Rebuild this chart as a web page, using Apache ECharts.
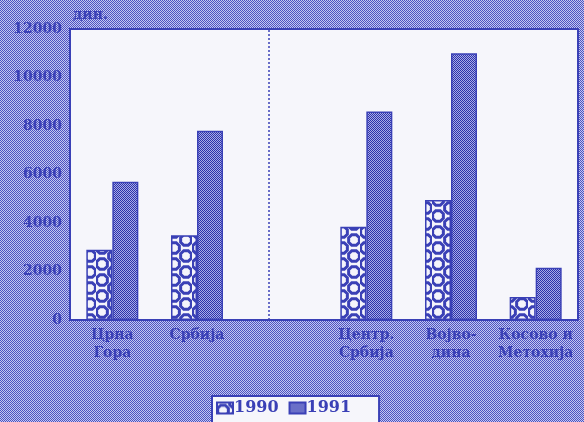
<!DOCTYPE html>
<html>
<head>
<meta charset="utf-8">
<script src="https://cdn.jsdelivr.net/npm/echarts@6/dist/echarts.min.js"></script>
<style>
  html, body { margin: 0; padding: 0; }
  #chart { width: 584px; height: 422px; }
</style>
</head>
<body>
<div id="chart"></div>
<script>
// подаци
var categories = ['Црна\nГора', 'Србија', '', 'Центр.\nСрбија', 'Војво-\nдина', 'Косово и\nМетохија'];
var values1990 = [2900, 3500, null, 3850, 4950, 950];
var values1991 = [5700, 7800, null, 8600, 11000, 2150];
var yTicks = [0, 2000, 4000, 6000, 8000, 10000, 12000];
var seriesNames = ['1990', '1991'];

var blue = '#3a40b6';
var font = 'DejaVu Serif';

// halftone tile: cells = list of [x, y] painted with c1
function tile(c1, c2, w, h, cells) {
  var cv = document.createElement('canvas');
  cv.width = w; cv.height = h;
  var ctx = cv.getContext('2d');
  ctx.fillStyle = c2; ctx.fillRect(0, 0, w, h);
  ctx.fillStyle = c1;
  cells.forEach(function (c) { ctx.fillRect(c[0], c[1], 1, 1); });
  return cv;
}

// prstenovi (osmougaonici) za 1990
function rings() {
  var w = 24, h = 16;
  var cv = document.createElement('canvas');
  cv.width = w; cv.height = h;
  var ctx = cv.getContext('2d');
  ctx.fillStyle = '#f4f4fb'; ctx.fillRect(0, 0, w, h);
  ctx.strokeStyle = blue; ctx.lineWidth = 3;
  function oct(cx, cy, r) {
    ctx.beginPath();
    for (var i = 0; i < 8; i++) {
      var a = Math.PI / 8 + i * Math.PI / 4;
      var x = cx + r * Math.cos(a), y = cy + r * Math.sin(a);
      i ? ctx.lineTo(x, y) : ctx.moveTo(x, y);
    }
    ctx.closePath();
    ctx.stroke();
  }
  oct(6, 8, 5.8);
  oct(18, 0, 5.8);
  oct(18, 16, 5.8);
  return cv;
}

var bgPattern = { image: tile('#4c52c2', '#c4c7ef', 2, 2, [[0, 0], [1, 1]]), repeat: 'repeat' };
var darkPattern = { image: tile('#2c32ab', '#a9ace6', 2, 2, [[0, 0], [1, 1]]), repeat: 'repeat' };
var ringPattern = { image: rings(), repeat: 'repeat' };

var myChart = echarts.init(document.getElementById('chart'), null, { renderer: 'canvas' });

var option = {
  backgroundColor: bgPattern,
  animation: false,
  title: {
    text: 'дин.',
    left: 68, top: 3,
    textStyle: { fontFamily: font, fontWeight: 'bold', fontSize: 14, color: blue }
  },
  grid: {
    left: 70, right: 6, top: 29, bottom: 102,
    show: true,
    backgroundColor: '#f6f6fb',
    borderColor: blue,
    borderWidth: 2
  },
  legend: {
    top: 396, left: 212,
    icon: 'rect',
    itemWidth: 16, itemHeight: 11, itemGap: 10,
    padding: [4, 28, 14, 4],
    backgroundColor: '#f6f6fb',
    borderColor: blue, borderWidth: 2,
    textStyle: { fontFamily: font, fontWeight: 'bold', fontSize: 16, color: blue, padding: [0, 0, 0, -4] },
    data: seriesNames
  },
  xAxis: {
    type: 'category',
    data: categories,
    axisTick: { show: false },
    axisLine: { show: false },
    axisLabel: {
      interval: 0, margin: 6,
      fontFamily: font, fontWeight: 'bold', fontSize: 14, lineHeight: 18, color: blue
    }
  },
  yAxis: {
    type: 'value',
    min: yTicks[0], max: yTicks[yTicks.length - 1], interval: 2000,
    splitLine: { show: false },
    axisLine: { show: false },
    axisTick: { show: false },
    axisLabel: {
      margin: 8, fontFamily: font, fontWeight: 'bold', fontSize: 14, color: blue,
      formatter: function (v) { return String(v); }
    }
  },
  series: [
    {
      name: seriesNames[0], type: 'bar', data: values1990,
      barWidth: 26, barGap: '0%',
      itemStyle: { color: ringPattern, borderColor: blue, borderWidth: 1.5 },
      markLine: {
        silent: true, symbol: 'none', label: { show: false },
        lineStyle: { color: blue, type: [2, 2], width: 1.5 },
        data: [{ xAxis: 2 }]
      }
    },
    {
      name: seriesNames[1], type: 'bar', data: values1991,
      barWidth: 26,
      itemStyle: { color: darkPattern, borderColor: blue, borderWidth: 1.5 }
    }
  ]
};

myChart.setOption(option);
</script>
</body>
</html>
